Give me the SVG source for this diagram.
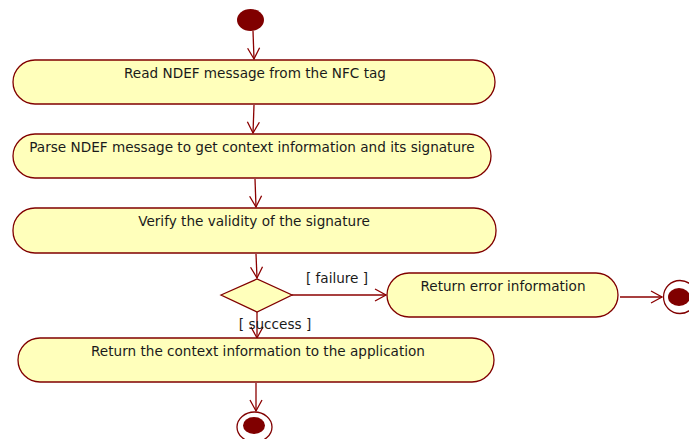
<svg xmlns="http://www.w3.org/2000/svg" width="689" height="439" viewBox="0 0 689 439">
<style>
.act{fill:#ffffbb;stroke:#800000;stroke-width:1.3}
.t{font-family:"DejaVu Sans",Verdana,sans-serif;font-size:13.6px;fill:#1a1a1a;text-anchor:middle}
.c{stroke:#8b0000;stroke-width:1.3;fill:none}
.dot{fill:#800000}
</style>
<defs>
<marker id="arr" markerWidth="14" markerHeight="14" refX="12" refY="7" orient="auto" markerUnits="userSpaceOnUse">
<path d="M1,1 L12,7 L1,13" fill="none" stroke="#8b0000" stroke-width="1.3"/>
</marker>
</defs>
<rect width="689" height="439" fill="#ffffff"/>
<g id="connectors">
<path class="c" d="M253,31 L254,59" marker-end="url(#arr)"/>
<path class="c" d="M254,105 L253,133" marker-end="url(#arr)"/>
<path class="c" d="M255,179 L256,207" marker-end="url(#arr)"/>
<path class="c" d="M256,254 L257,278" marker-end="url(#arr)"/>
<path class="c" d="M292,295 L386,295" marker-end="url(#arr)"/>
<path class="c" d="M257,312 L257,338" marker-end="url(#arr)"/>
<path class="c" d="M620,297 L662,297" marker-end="url(#arr)"/>
<path class="c" d="M256,383 L256,411" marker-end="url(#arr)"/>
<text class="t" x="337" y="283">[ failure ]</text>
<text class="t" x="275" y="329">[ success ]</text>
</g>
<g id="start"><ellipse class="dot" cx="250.5" cy="20" rx="13.5" ry="11"/></g>
<g id="read"><rect class="act" x="13" y="60" width="482" height="44" rx="22"/><text class="t" x="255" y="78">Read NDEF message from the NFC tag</text></g>
<g id="parse"><rect class="act" x="13" y="134" width="478" height="44" rx="22"/><text class="t" x="252" y="152">Parse NDEF message to get context information and its signature</text></g>
<g id="verify"><rect class="act" x="13" y="208" width="483" height="45" rx="22"/><text class="t" x="254" y="226">Verify the validity of the signature</text></g>
<g id="decision"><polygon class="act" points="221,295 257,279 292,295 257,312"/></g>
<g id="error"><rect class="act" x="387" y="273" width="231" height="44" rx="22"/><text class="t" x="503" y="291">Return error information</text></g>
<g id="returnctx"><rect class="act" x="18" y="338" width="476" height="44" rx="22"/><text class="t" x="258" y="356">Return the context information to the application</text></g>
<g id="end1"><circle cx="680" cy="297" r="16.5" fill="#ffffff" stroke="#800000" stroke-width="1.3"/><ellipse class="dot" cx="679" cy="297" rx="11" ry="9"/></g>
<g id="end2"><ellipse cx="254.5" cy="427" rx="17.5" ry="15" fill="#ffffff" stroke="#800000" stroke-width="1.3"/><ellipse class="dot" cx="254" cy="425.5" rx="11" ry="8.5"/></g>
</svg>
